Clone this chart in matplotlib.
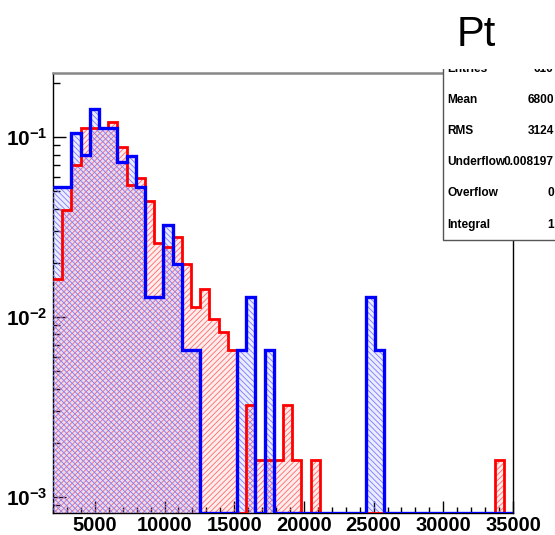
## Pt distribution, two normalised histograms on log scale
import numpy as np
import matplotlib
matplotlib.use("Agg")
from matplotlib import pyplot as plt
from matplotlib.patches import Rectangle
from matplotlib.ticker import MultipleLocator, LogLocator, FuncFormatter, NullFormatter

plt.rcParams['font.family'] = 'Liberation Sans'
plt.rcParams['mathtext.fontset'] = 'custom'
plt.rcParams['mathtext.bf'] = 'Liberation Sans:bold'
plt.rcParams['mathtext.rm'] = 'Liberation Sans'
plt.rcParams['hatch.linewidth'] = 0.6

# histogram binning
xmin = 2000
xmax = 35000
nbins = 50
edges = np.linspace(xmin, xmax, nbins + 1)

# bin contents (fraction of entries)
red = [0.0163, 0.0393, 0.0699, 0.1127, 0.1127, 0.1127, 0.1207, 0.0883, 0.054, 0.059,
       0.0443, 0.0259, 0.0246, 0.0279, 0.0197, 0.0114, 0.0144, 0.0098, 0.0083, 0.0066,
       0.0, 0.00324, 0.0016, 0.0016, 0.0016, 0.00324, 0.0016, 0.0, 0.0016, 0.0,
       0.0, 0.0, 0.0, 0.0, 0.0, 0.0, 0.0, 0.0, 0.0, 0.0,
       0.0, 0.0, 0.0, 0.0, 0.0, 0.0, 0.0, 0.0, 0.0016, 0.0]
blue = [0.0525, 0.0525, 0.106, 0.0794, 0.143, 0.1127, 0.1127, 0.0723, 0.0787, 0.053,
        0.013, 0.013, 0.0325, 0.0197, 0.00656, 0.00656, 0.0, 0.0, 0.0, 0.0,
        0.00656, 0.013, 0.0, 0.00656, 0.0, 0.0, 0.0, 0.0, 0.0, 0.0,
        0.0, 0.0, 0.0, 0.0, 0.013, 0.00656, 0.0, 0.0, 0.0, 0.0,
        0.0, 0.0, 0.0, 0.0, 0.0, 0.0, 0.0, 0.0, 0.0, 0.0]

# stats box
stat_names = ["Entries", "Mean", "RMS", "Underflow", "Overflow", "Integral"]
stat_values = ["610", "6800", "3124", "0.008197", "0", "1"]

ymin, ymax = 8.15e-4, 0.227

W, H = 555, 535
fig = plt.figure(figsize=(W / 100, H / 100), dpi=100)
ax = fig.add_axes([53 / W, 1 - 513 / H, (513 - 53) / W, (513 - 73) / H])

def clip(v):
    v = np.array(v)
    return np.where(v > 0, v, ymin)

r = clip(red)
b = clip(blue)

# hatched fills
ax.stairs(r, edges, baseline=ymin * 0.5, fill=True, facecolor=(1, 0.3, 0.3, 0.10),
          edgecolor='#ff6a6a', hatch='//////', linewidth=0, zorder=2)
ax.stairs(b, edges, baseline=ymin * 0.5, fill=True, facecolor=(0.3, 0.3, 1, 0.10),
          edgecolor='#7a7aff', hatch='\\\\\\\\\\\\', linewidth=0, zorder=3)
# outlines
ax.stairs(r, edges, baseline=None, color='#ff0000', linewidth=2.0, zorder=4)
ax.stairs(b, edges, baseline=None, color='#0000ff', linewidth=2.4, zorder=5)

ax.set_xlim(xmin, xmax)
ax.set_yscale('log')
ax.set_ylim(ymin, ymax)

ax.xaxis.set_major_locator(MultipleLocator(5000))
ax.xaxis.set_minor_locator(MultipleLocator(1000))
ax.yaxis.set_major_locator(LogLocator(base=10))
ax.yaxis.set_minor_locator(LogLocator(base=10, subs=np.arange(2, 10)))
ax.yaxis.set_minor_formatter(NullFormatter())
ax.yaxis.set_major_formatter(FuncFormatter(
    lambda v, p: r'$\mathbf{10^{%d}}$' % int(round(np.log10(v)))))

ax.tick_params(axis='both', which='both', direction='in', top=False, right=False,
               colors='black', width=1)
ax.tick_params(axis='x', which='major', length=9, pad=2, labelsize=14.5)
ax.tick_params(axis='x', which='minor', length=4.5)
ax.tick_params(axis='y', which='major', length=9.5, pad=4, labelsize=15)
ax.tick_params(axis='y', which='minor', length=5)
for lab in ax.get_xticklabels():
    lab.set_fontweight('bold')

ax.spines['top'].set_color('#888888')
ax.spines['top'].set_linewidth(1.8)
for s in ['left', 'bottom', 'right']:
    ax.spines[s].set_color('black')
    ax.spines[s].set_linewidth(1.0)

# stats box (runs off the right edge)
fig.add_artist(Rectangle((443 / W, 1 - 240 / H), 130 / W, 180 / H,
                         transform=fig.transFigure, facecolor='white',
                         edgecolor='#555555', linewidth=1.0, zorder=10))
rows_y = [72, 100, 131, 162, 193, 225]
for name, val, yy in zip(stat_names, stat_values, rows_y):
    va = 'baseline' if name == "Entries" else 'center'
    fig.text(447 / W, 1 - yy / H, name, ha='left', va=va, fontsize=8.6,
             fontweight='bold', zorder=12)
    fig.text(554 / W, 1 - yy / H, val, ha='right', va=va, fontsize=8.6,
             fontweight='bold', zorder=12)
# the title pad hides the top of the box
fig.add_artist(Rectangle((440 / W, 1 - 69 / H), 120 / W, 69 / H,
                         transform=fig.transFigure, facecolor='white',
                         edgecolor='none', zorder=13))
fig.text(476 / W, 1 - 35 / H, "Pt", ha='center', va='center', fontsize=30, zorder=14)

fig.savefig("out.png", dpi=100)
